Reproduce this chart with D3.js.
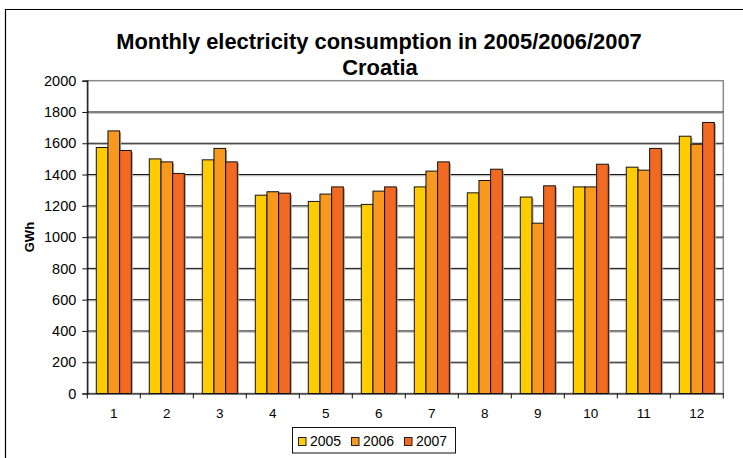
<!DOCTYPE html>
<html>
<head>
<meta charset="utf-8">
<script src="https://cdn.jsdelivr.net/npm/d3@7"></script>
<style>
  html, body { margin: 0; padding: 0; background: #fff; }
  svg { display: block; font-family: "Liberation Sans", Arial, sans-serif; }
</style>
</head>
<body>
<svg id="chart" width="743" height="458"></svg>
<script>
// Monthly electricity consumption in Croatia, GWh
const months = ["1", "2", "3", "4", "5", "6", "7", "8", "9", "10", "11", "12"];
const years = ["2005", "2006", "2007"];
const values2005 = [1573, 1500, 1494, 1268, 1228, 1209, 1321, 1283, 1256, 1321, 1447, 1645];
const values2006 = [1679, 1481, 1567, 1290, 1275, 1294, 1422, 1362, 1089, 1321, 1428, 1594];
const values2007 = [1554, 1407, 1481, 1281, 1321, 1321, 1481, 1434, 1328, 1466, 1567, 1733];
const yTicks = [0, 200, 400, 600, 800, 1000, 1200, 1400, 1600, 1800, 2000];
const colors = ["#FFCC00", "#F8981F", "#F26A22"];

const FONT = "'Liberation Sans', Arial, sans-serif";
const seriesValues = [values2005, values2006, values2007];
const rows = months.map((m, i) => ({
  month: m,
  vals: years.map((yr, j) => ({ year: yr, value: seriesValues[j][i] }))
}));

const svg = d3.select("#chart");
const plotLeft = 87.3, plotRight = 723.3, plotTop = 80.7, plotBottom = 393.5;

const x0 = d3.scaleBand().domain(months).range([plotLeft, plotRight]).paddingInner(0).paddingOuter(0);
const x1 = d3.scaleBand().domain(years).range([0, x0.bandwidth()]).paddingInner(0).paddingOuter(0.77);
const y = d3.scaleLinear().domain([0, 2000]).range([plotBottom, plotTop]);
const color = d3.scaleOrdinal().domain(years).range(colors);

// outer frame
svg.append("path")
  .attr("d", "M5.5,470 V9.5 H745")
  .attr("fill", "none").attr("stroke", "#000").attr("stroke-width", 1.2);

// title
svg.append("text").attr("x", 379).attr("y", 49)
  .attr("text-anchor", "middle").attr("font-weight", "bold").attr("font-size", 21.9)
  .attr("font-family", FONT).attr("fill", "#000")
  .text("Monthly electricity consumption in 2005/2006/2007");
svg.append("text").attr("x", 380).attr("y", 75)
  .attr("text-anchor", "middle").attr("font-weight", "bold").attr("font-size", 21.9)
  .attr("font-family", FONT).attr("fill", "#000").text("Croatia");

// plot area border (grey)
svg.append("rect")
  .attr("x", plotLeft).attr("y", y(2000)).attr("width", plotRight - plotLeft).attr("height", plotBottom - y(2000))
  .attr("fill", "#fff").attr("stroke", "#8a8a8a").attr("stroke-width", 1.5);

// gridlines with a soft shadow under each
const inner = yTicks.filter(t => t > 0 && t < 2000);
const grid = svg.append("g");
grid.selectAll("line.shadow").data(inner).join("line")
  .attr("class", "shadow")
  .attr("x1", plotLeft).attr("x2", plotRight)
  .attr("y1", d => y(d) + 1.2).attr("y2", d => y(d) + 1.2)
  .attr("stroke", "#b0b0b0").attr("stroke-width", 1);
grid.selectAll("line.major").data(inner).join("line")
  .attr("class", "major")
  .attr("x1", plotLeft).attr("x2", plotRight)
  .attr("y1", d => y(d)).attr("y2", d => y(d))
  .attr("stroke", "#111").attr("stroke-width", 1);

// bars
const groups = svg.append("g").selectAll("g").data(rows).join("g")
  .attr("transform", d => `translate(${x0(d.month)},0)`);
groups.selectAll("rect.shadow").data(d => d.vals).join("rect")
  .attr("class", "shadow")
  .attr("x", d => x1(d.year) + 1.5).attr("y", d => y(d.value) + 1.5)
  .attr("width", x1.bandwidth()).attr("height", d => plotBottom - y(d.value) - 1.5)
  .attr("fill", "#a0a0a0");
groups.selectAll("rect.bar").data(d => d.vals).join("rect")
  .attr("class", "bar")
  .attr("x", d => x1(d.year)).attr("y", d => y(d.value))
  .attr("width", x1.bandwidth()).attr("height", d => plotBottom - y(d.value))
  .attr("fill", d => color(d.year)).attr("stroke", "#111").attr("stroke-width", 1);

// y axis
const yAxis = svg.append("g").attr("transform", `translate(${plotLeft},0)`)
  .call(d3.axisLeft(y).tickValues(yTicks).tickSize(5).tickPadding(6).tickFormat(d3.format("d")));
yAxis.select(".domain").attr("stroke", "#111").attr("stroke-width", 1.2);
yAxis.selectAll(".tick line").attr("stroke", "#111");
yAxis.selectAll(".tick text").attr("font-size", 14.5).attr("fill", "#000")
  .attr("font-family", FONT);

// x axis: baseline with ticks at category boundaries, labels centred in categories
const xAxis = svg.append("g").attr("transform", `translate(0,${plotBottom})`)
  .call(d3.axisBottom(x0).tickSize(0).tickPadding(15));
xAxis.select(".domain").attr("stroke", "#111").attr("stroke-width", 1.2);
xAxis.selectAll(".tick text").attr("font-size", 13.5).attr("fill", "#000")
  .attr("font-family", FONT);
const bounds = months.map(m => x0(m)).concat([x0.range()[1]]);
xAxis.selectAll("line.bound").data(bounds).join("line")
  .attr("class", "bound")
  .attr("x1", d => d).attr("x2", d => d).attr("y1", 0).attr("y2", 5)
  .attr("stroke", "#111");

// y axis title
svg.append("text")
  .attr("transform", `translate(33.5,${(plotTop + plotBottom) / 2}) rotate(-90)`)
  .attr("text-anchor", "middle").attr("font-weight", "bold").attr("font-size", 13)
  .attr("font-family", FONT).attr("fill", "#000").text("GWh");

// legend
const legend = svg.append("g");
legend.append("rect").attr("x", 292.5).attr("y", 427.5).attr("width", 163).attr("height", 25.5)
  .attr("fill", "#fff").attr("stroke", "#111").attr("stroke-width", 1);
const legendX = [298, 351, 404];
const items = legend.selectAll("g.item").data(years).join("g").attr("class", "item")
  .attr("transform", (d, i) => `translate(${legendX[i]},437)`);
items.append("rect").attr("x", 0.5).attr("y", 0.5).attr("width", 7.5).attr("height", 8)
  .attr("fill", d => color(d)).attr("stroke", "#222").attr("stroke-width", 1);
items.append("text").attr("x", 12).attr("y", 9.3)
  .attr("font-size", 14).attr("font-family", FONT).attr("fill", "#000").text(d => d);
</script>
</body>
</html>
